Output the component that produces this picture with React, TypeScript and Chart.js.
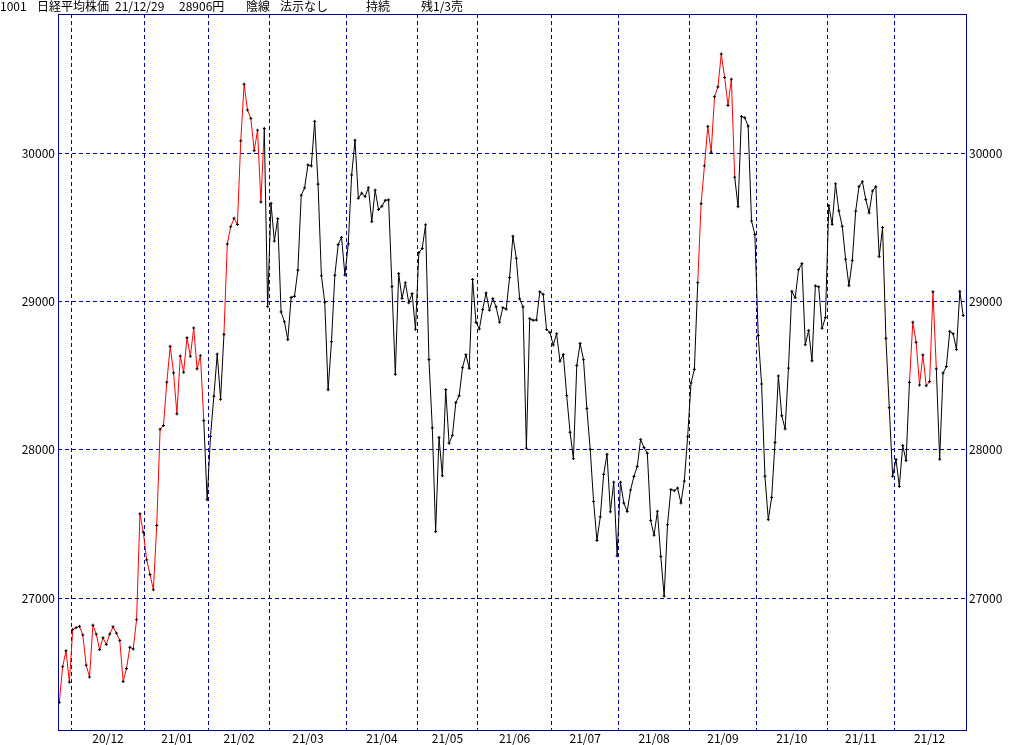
import React, { useEffect, useRef } from "react";
import { Chart, registerables } from "chart.js";

Chart.register(...registerables);

// Daily closes (日経平均株価), one array per month
const nov20 = [26296, 26537, 26644, 26433];
const dec20 = [26787, 26800, 26809, 26751, 26547, 26467, 26817, 26756, 26652, 26732, 26687, 26757, 26806, 26763, 26714, 26436, 26524, 26668, 26656, 26854, 27568, 27444];
const jan21 = [27258, 27158, 27056, 27490, 28139, 28164, 28456, 28698, 28519, 28242, 28633, 28523, 28756, 28631, 28822, 28546, 28635, 28197, 27663];
const feb21 = [28091, 28362, 28646, 28341, 28779, 29388, 29505, 29562, 29520, 30084, 30467, 30292, 30236, 30018, 30156, 29671, 30168, 28966];
const mar21 = [29663, 29408, 29559, 28930, 28864, 28743, 29028, 29036, 29212, 29718, 29767, 29922, 29915, 30216, 29792, 29174, 28996, 28405, 28729, 29177, 29385, 29433, 29179];
const apr21 = [29389, 29854, 30089, 29697, 29731, 29709, 29768, 29539, 29752, 29621, 29643, 29683, 29686, 29101, 28509, 29189, 29021, 29127, 28992, 29054, 28813];
const may21 = [29331, 29358, 29518, 28609, 28148, 27448, 28084, 27825, 28406, 28044, 28098, 28318, 28365, 28554, 28642, 28550, 29149, 28860];
const jun21 = [28815, 28946, 29058, 28942, 29020, 28964, 28861, 28959, 28949, 29161, 29441, 29292, 29019, 28964, 28011, 28885, 28874, 28876, 29066, 29049, 28812, 28792];
const jul21 = [28707, 28783, 28598, 28643, 28366, 28118, 27940, 28569, 28718, 28608, 28279, 28003, 27652, 27388, 27548, 27834, 27970, 27582, 27782, 27284];
const aug21 = [27781, 27641, 27584, 27728, 27820, 27888, 28070, 28015, 27977, 27523, 27424, 27585, 27281, 27013, 27494, 27732, 27724, 27742, 27641, 27789, 28089];
const sep21 = [28451, 28543, 29128, 29660, 29916, 30182, 30008, 30382, 30448, 30670, 30512, 30323, 30500, 29839, 29640, 30249, 30240, 30184, 29544, 29453];
const oct21 = [28771, 28444, 27822, 27529, 27678, 28049, 28498, 28230, 28141, 28551, 29069, 29026, 29215, 29256, 28709, 28805, 28600, 29106, 29099, 28820, 28893];
const nov21 = [29648, 29521, 29794, 29612, 29508, 29286, 29107, 29278, 29610, 29777, 29809, 29689, 29598, 29746, 29775, 29303, 29500, 28752, 28284, 27822];
const dec21 = [27935, 27753, 28029, 27927, 28455, 28861, 28725, 28437, 28640, 28432, 28460, 29066, 28546, 27937, 28518, 28562, 28799, 28783, 28677, 29069, 28906];

const monthSeries = [nov20, dec20, jan21, feb21, mar21, apr21, may21, jun21, jul21, aug21, sep21, oct21, nov21, dec21];
const monthLabels = ["", "20/12", "21/01", "21/02", "21/03", "21/04", "21/05", "21/06", "21/07", "21/08", "21/09", "21/10", "21/11", "21/12"];

// y-axis tick labels
const yTicks = [27000, 28000, 29000, 30000];

// segments (by index of their starting point) drawn in red
const redRuns = [
  [0, 42],
  [49, 60],
  [190, 200],
  [253, 260],
];

// header texts
const headerTexts = ["1001", "日経平均株価", "21/12/29", "28906円", "陰線", "法示なし", "持続", "残1/3売"];
const headerX = [0, 37, 115, 179, 246, 280, 366, 421];

const GRID = "#0000a8";
const FRAME = "#0000a0";
const FONT = '"Noto Sans CJK JP", "DejaVu Sans", sans-serif';

export default function App() {
  const ref = useRef<HTMLCanvasElement | null>(null);

  useEffect(() => {
    if (!ref.current) return;
    const values: number[] = [];
    const boundaries: number[] = [];
    const centers: number[] = [];
    monthSeries.forEach((m, mi) => {
      const start = values.length;
      if (mi > 0) boundaries.push(start - 0.5);
      centers.push(start + (m.length - 1) / 2);
      values.push(...m);
    });
    const labelCenters = centers.slice(1);
    const labelTexts = monthLabels.slice(1);
    const points = values.map((v, i) => ({ x: i, y: v }));
    const isRed = (i: number) => redRuns.some(([a, b]) => i >= a && i <= b);

    const xMin = -0.387;
    const xMax = values.length - 1 + 1.13;
    const yMin = 26103;
    const yMax = 30940;

    const frame = {
      id: "frame",
      beforeDatasetsDraw(chart: any) {
        const { ctx, chartArea: a } = chart;
        ctx.save();
        ctx.strokeStyle = FRAME;
        ctx.lineWidth = 1;
        ctx.setLineDash([]);
        ctx.strokeRect(a.left + 0.5, a.top + 0.5, a.right - a.left - 1, a.bottom - a.top - 1);
        ctx.restore();
      },
    };

    const chart = new Chart(ref.current, {
      type: "line",
      data: {
        datasets: [
          {
            data: points,
            borderWidth: 1,
            borderColor: "#000000",
            tension: 0,
            pointStyle: "cross",
            pointRadius: 1.5,
            pointBorderWidth: 1,
            pointBorderColor: "#000000",
            pointBackgroundColor: "#000000",
            segment: {
              borderColor: (ctx: any) => (isRed(ctx.p0DataIndex) ? "#ff0000" : "#000000"),
            },
            xAxisID: "x",
            yAxisID: "y",
          } as any,
        ],
      },
      options: {
        responsive: false,
        animation: false,
        devicePixelRatio: 1,
        events: [],
        layout: { padding: { top: 14, left: 0, right: 0, bottom: 0 } },
        plugins: {
          legend: { display: false },
          tooltip: { enabled: false },
          title: { display: false },
        },
        scales: {
          x: {
            type: "linear",
            position: "bottom",
            min: xMin,
            max: xMax,
            afterBuildTicks: (s: any) => {
              s.ticks = boundaries.map((v) => ({ value: v }));
            },
            afterFit: (s: any) => {
              s.height = 0;
            },
            ticks: { display: false },
            grid: { color: GRID, lineWidth: 1, drawTicks: false },
            border: { display: false, dash: [4, 3] },
          },
          xl: {
            type: "linear",
            position: "bottom",
            min: xMin,
            max: xMax,
            afterBuildTicks: (s: any) => {
              s.ticks = labelCenters.map((v) => ({ value: v }));
            },
            afterFit: (s: any) => {
              s.height = 14;
            },
            ticks: {
              autoSkip: false,
              maxRotation: 0,
              minRotation: 0,
              padding: 0,
              color: "#000000",
              font: { family: FONT, size: 12 },
              callback: (_v: any, i: number) => labelTexts[i],
            },
            grid: { display: false, drawTicks: false },
            border: { display: false },
          },
          y: {
            type: "linear",
            position: "left",
            min: yMin,
            max: yMax,
            afterBuildTicks: (s: any) => {
              s.ticks = yTicks.map((v) => ({ value: v }));
            },
            afterFit: (s: any) => {
              s.width = 58;
            },
            ticks: {
              padding: 3,
              color: "#000000",
              font: { family: FONT, size: 12 },
              callback: (v: any) => String(v),
            },
            grid: { color: GRID, lineWidth: 1, drawTicks: false },
            border: { display: false, dash: [4, 3] },
          },
          y2: {
            type: "linear",
            position: "right",
            min: yMin,
            max: yMax,
            afterBuildTicks: (s: any) => {
              s.ticks = yTicks.map((v) => ({ value: v }));
            },
            afterFit: (s: any) => {
              s.width = 57;
            },
            ticks: {
              padding: 2,
              color: "#000000",
              font: { family: FONT, size: 12 },
              callback: (v: any) => String(v),
            },
            grid: { display: false, drawTicks: false },
            border: { display: false },
          },
        },
      } as any,
      plugins: [frame],
    });

    return () => chart.destroy();
  }, []);

  return (
    <div
      style={{
        position: "absolute",
        left: 0,
        top: 0,
        width: 1024,
        height: 745,
        background: "#ffffff",
        overflow: "hidden",
      }}
    >
      <canvas
        ref={ref}
        width={1024}
        height={745}
        style={{ position: "absolute", left: 0, top: 0, width: 1024, height: 745 }}
      />
      {headerTexts.map((t, i) => (
        <span
          key={i}
          style={{
            position: "absolute",
            left: headerX[i],
            top: -1,
            fontFamily: FONT,
            fontSize: 12,
            lineHeight: "14px",
            color: "#000000",
            whiteSpace: "nowrap",
          }}
        >
          {t}
        </span>
      ))}
    </div>
  );
}
